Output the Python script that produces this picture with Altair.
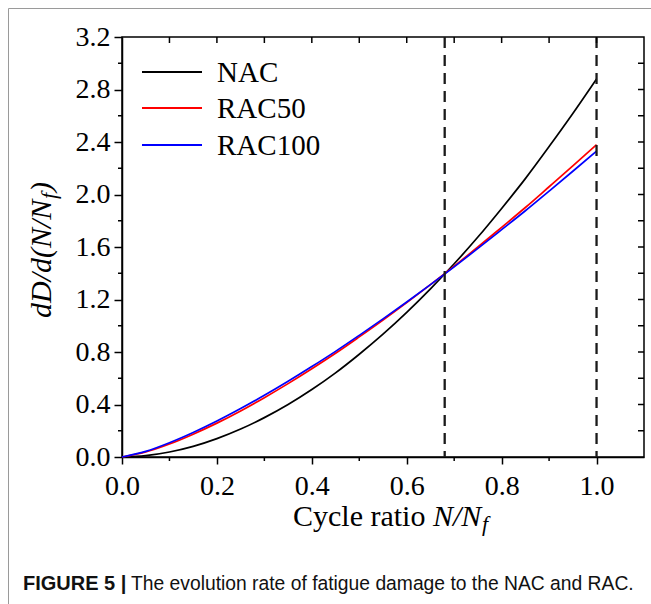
import altair as alt
import pandas as pd

# ---- data ----
x_vals = [0.0, 0.05, 0.10, 0.15, 0.20, 0.25, 0.30, 0.35, 0.40, 0.45, 0.50,
          0.55, 0.60, 0.65, 0.70, 0.75, 0.80, 0.85, 0.90, 0.95, 1.00]
nac = [0.0, 0.010, 0.038, 0.081, 0.140, 0.213, 0.300, 0.400, 0.514, 0.641, 0.783,
       0.936, 1.102, 1.281, 1.472, 1.676, 1.894, 2.121, 2.365, 2.617, 2.880]
rac50 = [0.0, 0.038, 0.099, 0.174, 0.258, 0.351, 0.452, 0.559, 0.672, 0.790, 0.915,
         1.043, 1.176, 1.313, 1.454, 1.600, 1.750, 1.901, 2.059, 2.218, 2.380]
rac100 = [0.0, 0.043, 0.109, 0.187, 0.274, 0.369, 0.470, 0.577, 0.689, 0.805, 0.927,
          1.052, 1.181, 1.313, 1.449, 1.589, 1.732, 1.876, 2.026, 2.177, 2.330]
series = ["NAC", "RAC50", "RAC100"]
colors = ["#000000", "#ff0000", "#0000ff"]
values = [nac, rac50, rac100]

x_major = [0.0, 0.2, 0.4, 0.6, 0.8, 1.0]
x_minor = [0.1, 0.3, 0.5, 0.7, 0.9]
y_major = [0.0, 0.4, 0.8, 1.2, 1.6, 2.0, 2.4, 2.8, 3.2]
y_minor = [0.2, 0.6, 1.0, 1.4, 1.8, 2.2, 2.6, 3.0]
top_ticks = [0.1, 0.2, 0.3, 0.4, 0.5, 0.6, 0.7, 0.8, 0.9, 1.0]
right_ticks = [0.2, 0.4, 0.6, 0.8, 1.0, 1.2, 1.4, 1.6, 1.8, 2.0, 2.2, 2.4, 2.6, 2.8, 3.0]
dashed_x = [0.68, 1.0]

W, H = 522, 420
SERIF = "Liberation Serif"
SANS = "Liberation Sans"

xs = alt.Scale(domain=[0, 1.1], nice=False, zero=False)
ys = alt.Scale(domain=[0, 3.2], nice=False, zero=False)

xaxis = alt.Axis(
    values=x_major, format=".1f", title=None, grid=False,
    tickSize=7, tickWidth=1.5, tickColor="black",
    domainColor="black", domainWidth=1.5,
    labelFont=SERIF, labelFontSize=28, labelColor="black",
    labelPadding=8, labelFlush=False)
yaxis = alt.Axis(
    values=y_major, format=".1f", title=None, grid=False,
    tickSize=8, tickWidth=1.5, tickColor="black",
    domainColor="black", domainWidth=1.5,
    labelFont=SERIF, labelFontSize=28, labelColor="black",
    labelPadding=4, labelFlush=False)

one = pd.DataFrame({"a": [0]})

layers = []

# curves (blue drawn last)
for name, col, vals in zip(series, colors, values):
    df = pd.DataFrame({"x": x_vals, "y": vals})
    layers.append(
        alt.Chart(df).mark_line(color=col, strokeWidth=1.7, interpolate="monotone")
        .encode(x=alt.X("x:Q", scale=xs, axis=xaxis),
                y=alt.Y("y:Q", scale=ys, axis=yaxis))
    )

# dashed verticals
layers.append(
    alt.Chart(pd.DataFrame({"x": dashed_x})).mark_rule(
        color="#1a1a1a", strokeWidth=2.3, strokeDash=[11, 7]
    ).encode(x=alt.X("x:Q", scale=xs, axis=xaxis))
)

# minor ticks bottom (outward)
layers.append(
    alt.Chart(pd.DataFrame({"x": x_minor})).mark_rule(color="black", strokeWidth=1.5)
    .encode(x=alt.X("x:Q", scale=xs, axis=xaxis), y=alt.value(H), y2=alt.value(H + 4))
)
# minor ticks left (outward)
layers.append(
    alt.Chart(pd.DataFrame({"y": y_minor})).mark_rule(color="black", strokeWidth=1.5)
    .encode(y=alt.Y("y:Q", scale=ys, axis=yaxis), x=alt.value(0), x2=alt.value(-4))
)
# top ticks (inward)
layers.append(
    alt.Chart(pd.DataFrame({"x": top_ticks})).mark_rule(color="black", strokeWidth=1.5)
    .encode(x=alt.X("x:Q", scale=xs, axis=xaxis), y=alt.value(0), y2=alt.value(6))
)
# right ticks (inward)
layers.append(
    alt.Chart(pd.DataFrame({"y": right_ticks})).mark_rule(color="black", strokeWidth=1.5)
    .encode(y=alt.Y("y:Q", scale=ys, axis=yaxis), x=alt.value(W), x2=alt.value(W - 6))
)

# legend
leg_y = [35, 71, 108]
for name, col, ly in zip(series, colors, leg_y):
    layers.append(
        alt.Chart(one).mark_rule(color=col, strokeWidth=2)
        .encode(x=alt.value(20), x2=alt.value(80), y=alt.value(ly))
    )
    layers.append(
        alt.Chart(one).mark_text(text=name, font=SERIF, fontSize=29, align="left",
                                 baseline="middle", color="black")
        .encode(x=alt.value(95), y=alt.value(ly + 1))
    )

# x title pieces
layers.append(alt.Chart(one).mark_text(text="Cycle ratio ", font=SERIF, fontSize=30,
                                       align="left", baseline="alphabetic", color="black")
              .encode(x=alt.value(171), y=alt.value(489)))
layers.append(alt.Chart(one).mark_text(text="N/N", font=SERIF, fontSize=30, fontStyle="italic",
                                       align="left", baseline="alphabetic", color="black")
              .encode(x=alt.value(311), y=alt.value(489)))
layers.append(alt.Chart(one).mark_text(text="f", font=SERIF, fontSize=22, fontStyle="italic",
                                       align="left", baseline="alphabetic", color="black")
              .encode(x=alt.value(360), y=alt.value(494)))

# y title pieces (rotated)
layers.append(alt.Chart(one).mark_text(text="dD/d(N/N", font=SERIF, fontSize=30, fontStyle="italic",
                                       angle=270, align="left", baseline="alphabetic", color="black")
              .encode(x=alt.value(-71), y=alt.value(281)))
layers.append(alt.Chart(one).mark_text(text="f", font=SERIF, fontSize=22, fontStyle="italic",
                                       angle=270, align="left", baseline="alphabetic", color="black")
              .encode(x=alt.value(-66), y=alt.value(162)))
layers.append(alt.Chart(one).mark_text(text=")", font=SERIF, fontSize=30, fontStyle="italic",
                                       angle=270, align="left", baseline="alphabetic", color="black")
              .encode(x=alt.value(-71), y=alt.value(155)))

# caption
layers.append(alt.Chart(one).mark_text(text="FIGURE 5 |", font=SANS, fontSize=20, fontWeight="bold",
                                       align="left", baseline="alphabetic", color="#111111")
              .encode(x=alt.value(-99), y=alt.value(553)))
layers.append(alt.Chart(one).mark_text(text="The evolution rate of fatigue damage to the NAC and RAC.",
                                       font=SANS, fontSize=19.3, align="left", baseline="alphabetic",
                                       color="#111111")
              .encode(x=alt.value(9), y=alt.value(553)))

# outer frame lines
layers.append(alt.Chart(one).mark_rule(color="#9a9a9a", strokeWidth=1)
              .encode(x=alt.value(-113.5), x2=alt.value(540), y=alt.value(-28.5)))
layers.append(alt.Chart(one).mark_rule(color="#9a9a9a", strokeWidth=1)
              .encode(x=alt.value(-113.5), y=alt.value(-28.5), y2=alt.value(580)))

chart = alt.layer(*layers).properties(
    width=W, height=H,
    autosize=alt.AutoSizeParams(type="none"),
    padding={"left": 122, "top": 37, "right": 7, "bottom": 147},
    background="white",
).configure_view(stroke="black", strokeWidth=1.5)

chart.save("out.html", embed_options={"renderer": "svg", "actions": False})
